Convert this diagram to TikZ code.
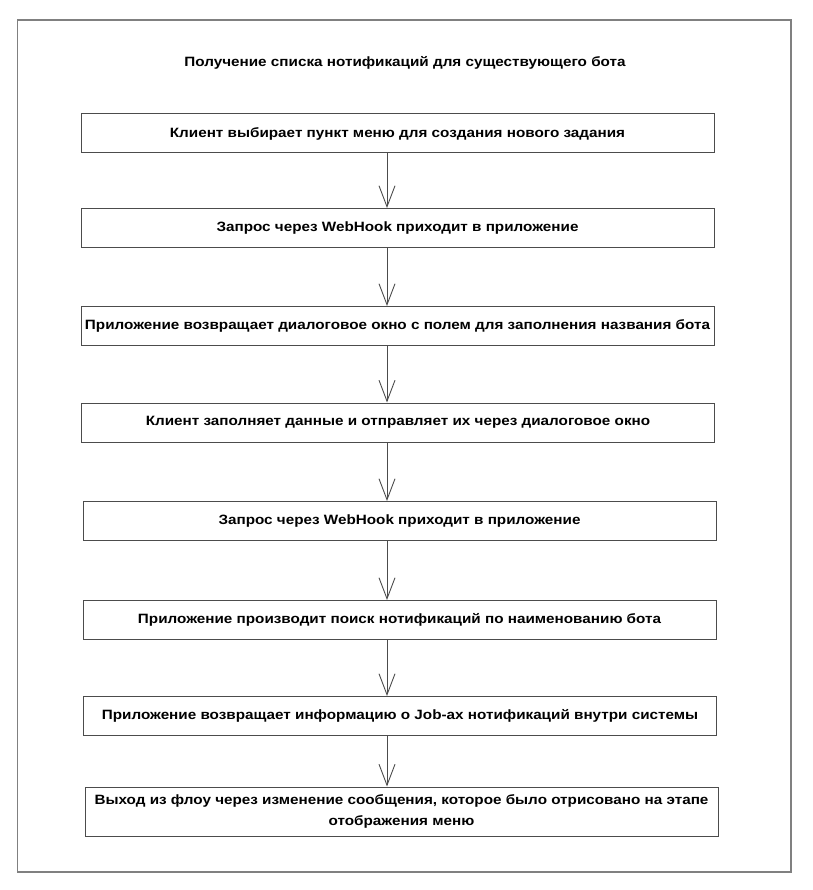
\documentclass[tikz,border=0pt]{standalone}
\usepackage{fontspec}
\setmainfont[FakeStretch=1.13]{Liberation Sans}
\usetikzlibrary{arrows.meta}
\begin{document}
\begin{tikzpicture}[x=1pt,y=-1pt,
  frame/.style={draw=black!50, line width=1.5pt},
  title/.style={font=\bfseries\fontsize{13.5}{16}\selectfont},
  stepbox/.style={draw=black!70, line width=1pt, minimum width=633pt, minimum height=39pt,
    inner sep=0pt, align=center, font=\bfseries\fontsize{13.5}{21}\selectfont},
  flow/.style={draw=black!70, line width=0.9pt, -{Straight Barb[length=21pt,width=16pt,line width=0.9pt]}}]
\useasboundingbox (0,0) rectangle (812,890);
\draw[frame] (17.5,20) rectangle (791,872);

\node[title] (t) at (405,63) {Получение списка нотификаций для существующего бота};

\node[stepbox] (s1) at (397.5,133.5) {Клиент выбирает пункт меню для создания нового задания};
\node[stepbox] (s2) at (397.5,228) {Запрос через WebHook приходит в приложение};
\node[stepbox] (s3) at (397.5,326) {Приложение возвращает диалоговое окно с полем для заполнения названия бота};
\node[stepbox] (s4) at (398,422.5) {Клиент заполняет данные и отправляет их через диалоговое окно};
\node[stepbox] (s5) at (399.5,521) {Запрос через WebHook приходит в приложение};
\node[stepbox] (s6) at (399.5,620) {Приложение производит поиск нотификаций по наименованию бота};
\node[stepbox] (s7) at (400,716) {Приложение возвращает информацию о Job-ах нотификаций внутри системы};
\node[stepbox, minimum height=49pt] (s8) at (401.5,811.5) {Выход из флоу через изменение сообщения, которое было отрисовано на этапе\\отображения меню};

\draw[flow] ([xshift=-10.5pt]s1.south) -- ([xshift=-10.5pt]s2.north);
\draw[flow] ([xshift=-10.5pt]s2.south) -- ([xshift=-10.5pt]s3.north);
\draw[flow] ([xshift=-10.5pt]s3.south) -- ([xshift=-11pt]s4.north);
\draw[flow] ([xshift=-11pt]s4.south) -- ([xshift=-12.5pt]s5.north);
\draw[flow] ([xshift=-12.5pt]s5.south) -- ([xshift=-12.5pt]s6.north);
\draw[flow] ([xshift=-12.5pt]s6.south) -- ([xshift=-13pt]s7.north);
\draw[flow] ([xshift=-13pt]s7.south) -- ([xshift=-14.5pt]s8.north);
\end{tikzpicture}
\end{document}
